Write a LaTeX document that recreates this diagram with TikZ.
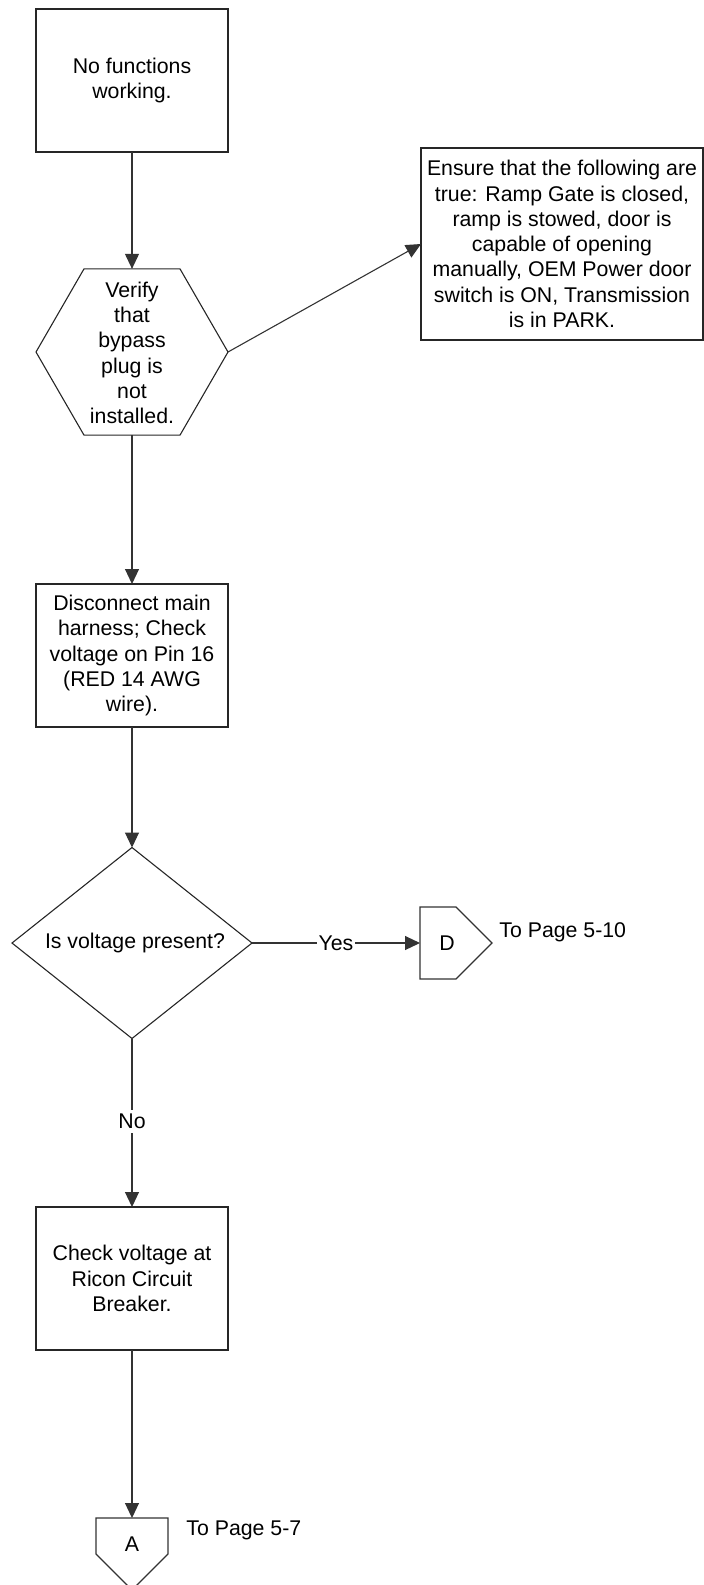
\documentclass[tikz,border=0pt]{standalone}
\usepackage{fontspec}
\setmainfont{Liberation Sans}
\usetikzlibrary{arrows.meta,shapes.geometric}

\tikzset{
  txt/.style={align=center, inner sep=0pt, font=\fontsize{10.65pt}{12.65pt}\selectfont},
  procbox/.style={draw=black!85, line width=0.55pt, rectangle, minimum width=96pt,
    minimum height=71.5pt, inner sep=1pt, outer sep=0pt, txt},
  hexbox/.style={draw=black!85, line width=0.55pt, regular polygon, regular polygon sides=6,
    minimum size=96pt, inner sep=0pt, outer sep=0pt},
  decision/.style={draw=black!85, line width=0.55pt, diamond, minimum width=120pt,
    minimum height=95.5pt, inner sep=0pt, outer sep=0pt},
  offpage/.style={rectangle, minimum size=36pt, inner sep=0pt, outer sep=0pt},
  conn/.style={draw=black!80, line width=0.55pt, -{Triangle[length=7.5pt,width=7pt]}},
  plain/.style={draw=black!80, line width=0.55pt},
  lbl/.style={txt, fill=white, inner sep=1pt}
}

\begin{document}
\begin{tikzpicture}[x=0.5pt, y=-0.5pt]
\useasboundingbox (0,0) rectangle (704,1585);

% process boxes
\node[procbox] (start) at (132,80.5) {No functions\\working.};
\node[procbox, minimum width=141pt, minimum height=96pt] (ensure) at (562,244)
  {Ensure that the following are\\true: Ramp Gate is closed,\\ramp is stowed, door is\\capable of opening\\manually, OEM Power door\\switch is ON, Transmission\\is in PARK.};
\node[procbox] (harness) at (132,655.5) {Disconnect main\\harness; Check\\voltage on Pin 16\\(RED 14 AWG\\wire).};
\node[procbox] (breaker) at (132,1278.5) {Check voltage at\\Ricon Circuit\\Breaker.};

% preparation hexagon
\node[hexbox] (verify) at (132,352) {};
\node[txt] (verifytxt) at (132,353) {Verify\\that\\bypass\\plug is\\not\\installed.};

% decision
\node[decision] (volt) at (132,943) {};
\node[txt] (volttxt) at (135,943) {Is voltage present?};

% off-page connector D
\node[offpage] (D) at (456,943) {};
\draw[plain] (D.north west) -- (D.north) -- (D.east) -- (D.south) -- (D.south west) -- cycle;
\node[txt] (Dtxt) at (447,943) {D};
\node[txt, anchor=west] (Dref) at (499,932) {To Page 5-10};

% off-page connector A
\node[offpage] (A) at (132,1554) {};
\draw[plain] (A.north west) -- (A.north east) -- (A.east) -- (A.south) -- (A.west) -- cycle;
\node[txt] (Atxt) at (132,1544) {A};
\node[txt, anchor=west] (Aref) at (186,1530) {To Page 5-7};

% connectors
\draw[conn] (start.south) -- (verify.north);
\draw[conn] (verify.east) -- (ensure.west);
\draw[conn] (verify.south) -- (harness.north);
\draw[conn] (harness.south) -- (volt.north);
\draw[conn] (volt.east) -- node[lbl] {Yes} (D.west);
\draw[conn] (volt.south) -- node[lbl, pos=0.49, inner sep=2pt] {No} (breaker.north);
\draw[conn] (breaker.south) -- (A.north);
\end{tikzpicture}
\end{document}
